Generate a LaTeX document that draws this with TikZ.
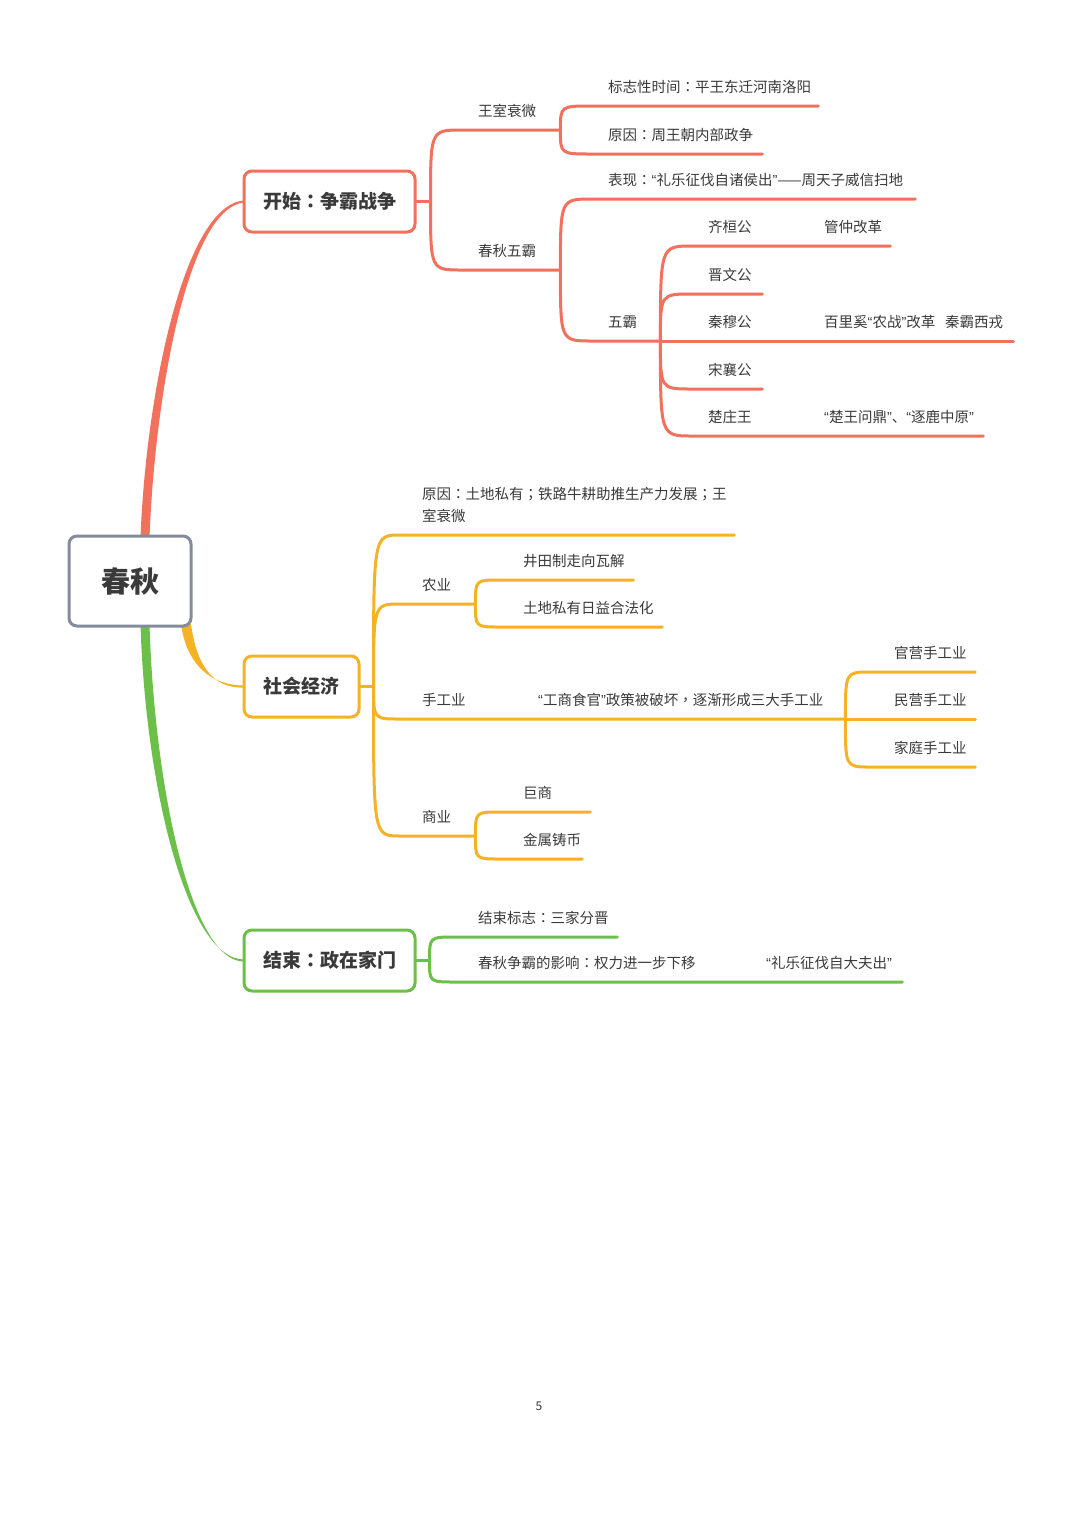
\documentclass[tikz,border=0pt]{standalone}
\usepackage{fontspec}
\setmainfont{Noto Sans CJK SC}
\newfontfamily\tcf{Noto Sans CJK TC}
\newfontfamily\latf{Liberation Sans}
\newcommand\cco{{\tcf ：}}
\newcommand\csemi{{\tcf ；}}
\newcommand\ccomma{{\tcf ，}}
\newcommand\ql{{\latf “}}
\newcommand\qr{{\latf ”}}
\usetikzlibrary{calc}
\definecolor{cR}{HTML}{F2705C}
\definecolor{cO}{HTML}{F5B224}
\definecolor{cG}{HTML}{6CC04A}
\definecolor{cRoot}{HTML}{858B9C}
\definecolor{txt}{HTML}{3A3A3A}
\tikzset{
  lf/.style 2 args={font=\fontsize{14.5}{22}\selectfont, text=txt, anchor=south west,
    inner xsep=0pt, inner ysep=7pt, align=left, text width=#1pt,
    execute at begin node={\hspace*{#2pt}}, execute at end node={\strut}},
  rootbox/.style={draw=cRoot, line width=3pt, rounded corners=8pt, fill=white,
    minimum width=122pt, minimum height=90pt, text=txt,
    font=\fontsize{29}{34}\selectfont\bfseries},
  mainbox/.style={line width=3pt, rounded corners=8pt, fill=white,
    minimum height=61pt, text=txt, font=\fontsize{19}{23}\selectfont\bfseries},
  rl/.style={draw=cR, line width=3pt, line cap=round},
  ol/.style={draw=cO, line width=3pt, line cap=round},
  gl/.style={draw=cG, line width=3pt, line cap=round},
}
\begin{document}
\begin{tikzpicture}[x=1pt,y=-1pt]
\useasboundingbox[fill=white] (0,0) rectangle (1080,1527);

% main branches (tapered), drawn under the boxes
\coordinate (rN) at (145,536);
\coordinate (rS) at (145,626);
\coordinate (rSE) at (186,626);
\coordinate (kW) at (244,201.5);
\coordinate (sW) at (244,686.5);
\coordinate (eW) at (244,960.5);
\fill[cR] ($(rN)+(-4.5,2)$) .. controls (145.5,400) and (183,205) .. ($(kW)+(0,-1)$)
  -- ($(kW)+(0,1)$) .. controls (187,208.5) and (154.5,400) .. ($(rN)+(4.5,2)$) -- cycle;
\fill[cO] ($(rSE)+(-5,-2)$) .. controls (187,667) and (213,685.5) .. ($(sW)+(0,-1)$)
  -- ($(sW)+(0,1)$) .. controls (211,689) and (196,662) .. ($(rSE)+(5,-2)$) -- cycle;
\fill[cG] ($(rS)+(-4.5,-2)$) .. controls (145.5,790) and (188,959.5) .. ($(eW)+(0,-1)$)
  -- ($(eW)+(0,1)$) .. controls (192,962) and (154.5,790) .. ($(rS)+(4.5,-2)$) -- cycle;

% root and main topics
\node[rootbox] (root) at (130,581) {春秋};
\node[mainbox, draw=cR, minimum width=171pt] (K) at (329.5,201.5) {开始\cco 争霸战争};
\node[mainbox, draw=cO, minimum width=115pt] (S) at (301.5,686.5) {社会经济};
\node[mainbox, draw=cG, minimum width=171pt] (E) at (329.5,960.5) {结束\cco 政在家门};

% ---------- red: start ----------
\coordinate (jK) at ($(K.east)+(14,0)$);
\node[lf={98}{16}] (wsw) at (462,130) {王室衰微};
\node[lf={226}{16}] (bzx) at (592,106) {标志性时间\cco 平王东迁河南洛阳};
\node[lf={170}{16}] (yy1) at (592,154) {原因\cco 周王朝内部政争};
\node[lf={98}{16}] (cqwb) at (462,270) {春秋五霸};
\node[lf={323}{16}] (bx) at (592,199) {表现\cco\ql 礼乐征伐自诸侯出\qr——周天子威信扫地};
\node[lf={68}{16}] (wb) at (592,341) {五霸};
\node[lf={70}{16}] (qhg) at (692,246) {齐桓公};
\node[lf={128}{62}] (gzgg) at (762,246) {管仲改革};
\node[lf={70}{16}] (jwg) at (692,294) {晋文公};
\node[lf={70}{16}] (qmg) at (692,341) {秦穆公};
\node[lf={251}{62}] (blx) at (762,341) {百里奚\ql 农战\qr 改革~~秦霸西戎};
\node[lf={70}{16}] (sxg) at (692,389) {宋襄公};
\node[lf={70}{16}] (czw) at (692,436) {楚庄王};
\node[lf={221}{62}] (wd) at (762,436) {\ql 楚王问鼎\qr、\ql 逐鹿中原\qr};

\draw[rl] (K.east) -- (jK);
\draw[rl] (jK) .. controls (jK |- wsw.south west) .. (wsw.south west) -- (wsw.south east);
\draw[rl] (jK) .. controls (jK |- cqwb.south west) .. (cqwb.south west) -- (cqwb.south east);
\draw[rl] (wsw.south east) .. controls (wsw.south east |- bzx.south west) .. (bzx.south west) -- (bzx.south east);
\draw[rl] (wsw.south east) .. controls (wsw.south east |- yy1.south west) .. (yy1.south west) -- (yy1.south east);
\draw[rl] (cqwb.south east) .. controls (cqwb.south east |- bx.south west) .. (bx.south west) -- (bx.south east);
\draw[rl] (cqwb.south east) .. controls (cqwb.south east |- wb.south west) .. (wb.south west) -- (wb.south east);
\draw[rl] (wb.south east) .. controls (wb.south east |- qhg.south west) .. (qhg.south west) -- (qhg.south east) -- (gzgg.south east);
\draw[rl] (wb.south east) .. controls (wb.south east |- jwg.south west) .. (jwg.south west) -- (jwg.south east);
\draw[rl] (wb.south east) -- (qmg.south west) -- (qmg.south east) -- (blx.south east);
\draw[rl] (wb.south east) .. controls (wb.south east |- sxg.south west) .. (sxg.south west) -- (sxg.south east);
\draw[rl] (wb.south east) .. controls (wb.south east |- czw.south west) .. (czw.south west) -- (czw.south east) -- (wd.south east);

% ---------- orange: society & economy ----------
\coordinate (jS) at ($(S.east)+(13,0)$);
\node[lf={334}{22}] (yy2) at (400,535) {原因\cco 土地私有\csemi 铁路牛耕助推生产力发展\csemi 王\\\hspace*{22pt}室衰微};
\node[lf={75}{22}] (ny) at (400,604) {农业};
\node[lf={133}{23}] (jtz) at (500,580) {井田制走向瓦解};
\node[lf={162}{23}] (tdsy) at (500,627) {土地私有日益合法化};
\node[lf={80}{22}] (sgy) at (400,719) {手工业};
\node[lf={365}{58}] (gsh) at (480,719) {\ql 工商食官\qr 政策被破坏\ccomma 逐渐形成三大手工业};
\node[lf={105}{24}] (gy) at (870,672) {官营手工业};
\node[lf={105}{24}] (my) at (870,719) {民营手工业};
\node[lf={105}{24}] (jt) at (870,767) {家庭手工业};
\node[lf={75}{22}] (sy) at (400,836) {商业};
\node[lf={90}{23}] (jus) at (500,812) {巨商};
\node[lf={82}{23}] (jsz) at (500,859) {金属铸币};

\draw[ol] (S.east) -- (jS);
\draw[ol] (jS) .. controls (jS |- yy2.south west) .. (yy2.south west) -- (yy2.south east);
\draw[ol] (jS) .. controls (jS |- ny.south west) .. (ny.south west) -- (ny.south east);
\draw[ol] (jS) .. controls (jS |- sgy.south west) .. (sgy.south west) -- (sgy.south east) -- (gsh.south east);
\draw[ol] (jS) .. controls (jS |- sy.south west) .. (sy.south west) -- (sy.south east);
\draw[ol] (ny.south east) .. controls (ny.south east |- jtz.south west) .. (jtz.south west) -- (jtz.south east);
\draw[ol] (ny.south east) .. controls (ny.south east |- tdsy.south west) .. (tdsy.south west) -- (tdsy.south east);
\draw[ol] (gsh.south east) .. controls (gsh.south east |- gy.south west) .. (gy.south west) -- (gy.south east);
\draw[ol] (gsh.south east) -- (my.south west) -- (my.south east);
\draw[ol] (gsh.south east) .. controls (gsh.south east |- jt.south west) .. (jt.south west) -- (jt.south east);
\draw[ol] (sy.south east) .. controls (sy.south east |- jus.south west) .. (jus.south west) -- (jus.south east);
\draw[ol] (sy.south east) .. controls (sy.south east |- jsz.south west) .. (jsz.south west) -- (jsz.south east);

% ---------- green: end ----------
\coordinate (jE) at ($(E.east)+(13,0)$);
\node[lf={162}{23}] (jsbz) at (455,937) {结束标志\cco 三家分晋};
\node[lf={285}{23}] (yx) at (455,982) {春秋争霸的影响\cco 权力进一步下移};
\node[lf={162}{26}] (dfc) at (740,982) {\ql 礼乐征伐自大夫出\qr};

\draw[gl] (E.east) -- (jE);
\draw[gl] (jE) .. controls (jE |- jsbz.south west) .. (jsbz.south west) -- (jsbz.south east);
\draw[gl] (jE) .. controls (jE |- yx.south west) .. (yx.south west) -- (yx.south east) -- (dfc.south east);

% page number
\node[text=txt, font=\fontsize{12}{14}\selectfont] (pg) at (539,1406) {5};
\end{tikzpicture}
\end{document}
